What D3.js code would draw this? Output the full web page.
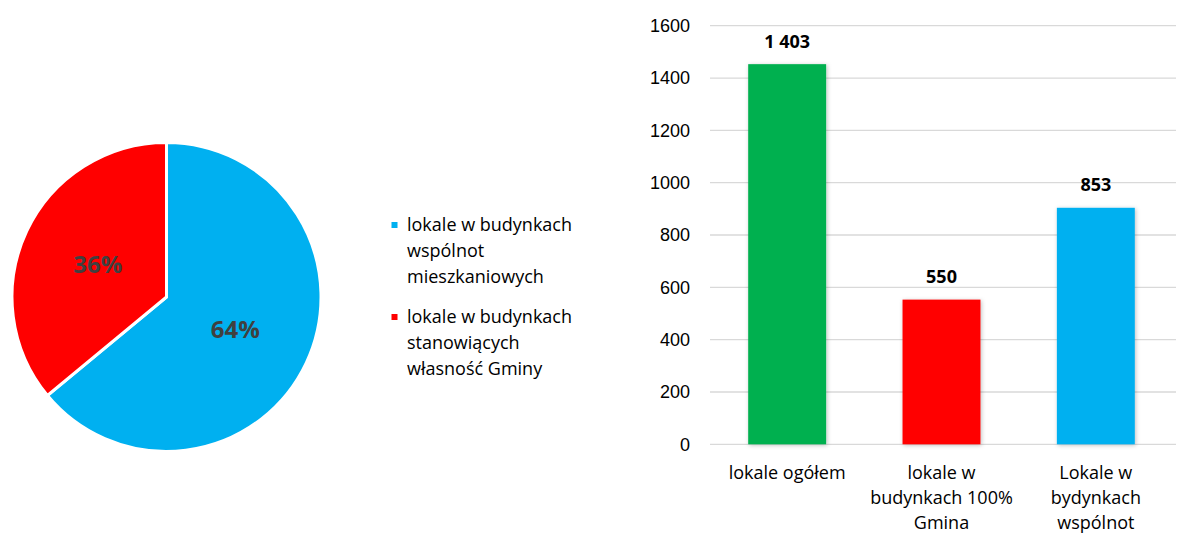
<!DOCTYPE html>
<html>
<head>
<meta charset="utf-8">
<script src="https://cdn.jsdelivr.net/npm/d3@7"></script>
<style>
  body { margin: 0; background: #fff; }
  svg { font-family: "Open Sans", "Noto Sans", sans-serif; }
</style>
</head>
<body>
<svg id="chart" width="1179" height="533"></svg>
<script>
// pie data
var pieNames = [
  ["lokale w budynkach", "wspólnot", "mieszkaniowych"],
  ["lokale w budynkach", "stanowiących", "własność Gminy"]
];
var pieShares = [64, 36];
var pieColors = ["#00B0F0", "#FF0000"];

// bar data
var barCategories = [
  ["lokale ogółem"],
  ["lokale w", "budynkach 100%", "Gmina"],
  ["Lokale w", "bydynkach", "wspólnot"]
];
var barValues = [1453, 553, 904];
var barLabels = ["1 403", "550", "853"];
var barColors = ["#00B050", "#FF0000", "#00B0F0"];
var yTicks = [0, 200, 400, 600, 800, 1000, 1200, 1400, 1600];

var svg = d3.select("#chart");

// shadow for bars
var defs = svg.append("defs");
var f = defs.append("filter").attr("id", "shadow")
    .attr("x", "-20%").attr("y", "-5%").attr("width", "140%").attr("height", "110%");
f.append("feDropShadow").attr("dx", 1).attr("dy", 1).attr("stdDeviation", 2)
    .attr("flood-color", "#000").attr("flood-opacity", 0.25);

// ---- pie ----
var pieG = svg.append("g").attr("transform", "translate(166.5,297)");
var pie = d3.pie().sort(null).value(function(d){ return d; });
var arc = d3.arc().innerRadius(0).outerRadius(154.5);
var labelArc = d3.arc().innerRadius(76).outerRadius(76);

var slices = pie(pieShares);
pieG.selectAll("path")
    .data(slices)
    .join("path")
    .attr("d", arc)
    .attr("fill", function(d, i){ return pieColors[i]; })
    .attr("stroke", "#fff")
    .attr("stroke-width", 3);

pieG.selectAll("text")
    .data(slices)
    .join("text")
    .attr("transform", function(d){ return "translate(" + labelArc.centroid(d) + ")"; })
    .attr("text-anchor", "middle")
    .attr("dy", "0.36em")
    .attr("font-size", 24)
    .attr("font-weight", "bold")
    .attr("fill", "#404040")
    .text(function(d){ return d.data + "%"; });

// legend
var legend = svg.append("g").attr("transform", "translate(391.5,0)");
var legItems = legend.selectAll("g")
    .data(pieNames)
    .join("g")
    .attr("transform", function(d, i){ return "translate(0," + (225 + i * 92) + ")"; });
legItems.append("rect")
    .attr("x", 0).attr("y", -3).attr("width", 6).attr("height", 6)
    .attr("fill", function(d, i){ return pieColors[i]; });
legItems.append("text")
    .attr("font-size", 18)
    .attr("fill", "#000")
    .selectAll("tspan")
    .data(function(d){ return d; })
    .join("tspan")
    .attr("x", 15.5)
    .attr("y", function(d, i){ return 6 + i * 26; })
    .text(function(d){ return d; });

// ---- bars ----
var x = d3.scaleBand().domain(d3.range(barValues.length)).range([710, 1173])
    .paddingInner(0.495).paddingOuter(0.2475);
var y = d3.scaleLinear().domain([0, 1600]).range([444.3, 25.7]);

var grid = svg.append("g");
grid.selectAll("line")
    .data(yTicks)
    .join("line")
    .attr("x1", 710).attr("x2", 1176)
    .attr("y1", function(d){ return y(d); })
    .attr("y2", function(d){ return y(d); })
    .attr("stroke", "#D9D9D9")
    .attr("stroke-width", 1.3);

var yAxis = svg.append("g")
    .attr("transform", "translate(700,0)")
    .call(d3.axisLeft(y).tickValues(yTicks).tickFormat(d3.format("d")).tickSize(0).tickPadding(0));
yAxis.select(".domain").remove();
yAxis.selectAll("text")
    .attr("font-size", 18)
    .attr("font-family", null)
    .attr("fill", "#000")
    .attr("x", -10);

svg.append("g").selectAll("rect")
    .data(barValues)
    .join("rect")
    .attr("x", function(d, i){ return x(i); })
    .attr("width", x.bandwidth())
    .attr("y", function(d){ return y(d); })
    .attr("height", function(d){ return y(0) - y(d); })
    .attr("fill", function(d, i){ return barColors[i]; })
    .attr("filter", "url(#shadow)");

svg.append("g").selectAll("text")
    .data(barValues)
    .join("text")
    .attr("x", function(d, i){ return x(i) + x.bandwidth() / 2; })
    .attr("y", function(d){ return y(d) - 16.5; })
    .attr("text-anchor", "middle")
    .attr("font-size", 18)
    .attr("font-weight", "bold")
    .attr("fill", "#000")
    .text(function(d, i){ return barLabels[i]; });

svg.append("g").selectAll("text")
    .data(barCategories)
    .join("text")
    .attr("font-size", 18)
    .attr("fill", "#000")
    .attr("text-anchor", "middle")
    .each(function(d, i){
      d3.select(this).selectAll("tspan")
        .data(d)
        .join("tspan")
        .attr("x", x(i) + x.bandwidth() / 2)
        .attr("y", function(t, j){ return 479 + j * 25; })
        .text(function(t){ return t; });
    });
</script>
</body>
</html>
